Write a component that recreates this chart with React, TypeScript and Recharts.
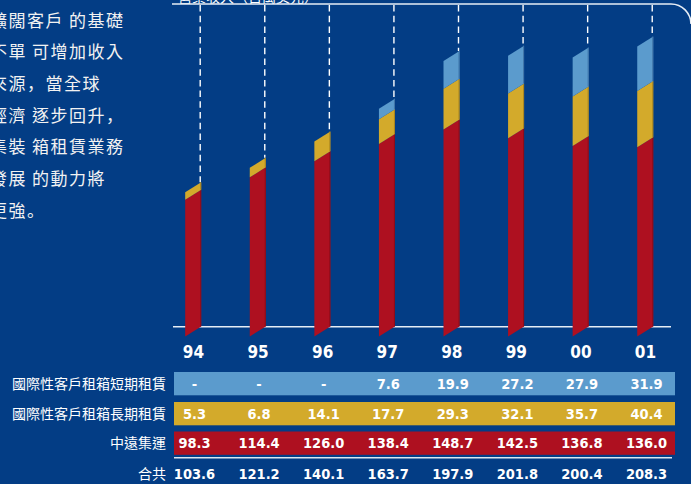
import React from 'react';
import { BarChart, Bar, XAxis, YAxis } from 'recharts';

const years = ['94', '95', '96', '97', '98', '99', '00', '01'];
const shortTerm: (number | null)[] = [null, null, null, 7.6, 19.9, 27.2, 27.9, 31.9];
const longTerm = [5.3, 6.8, 14.1, 17.7, 29.3, 32.1, 35.7, 40.4];
const coscon = [98.3, 114.4, 126.0, 138.4, 148.7, 142.5, 136.8, 136.0];
const totals = [103.6, 121.2, 140.1, 163.7, 197.9, 201.8, 200.4, 208.3];
const rowLabels = ['國際性客戶租箱短期租賃', '國際性客戶租箱長期租賃', '中遠集運', '合共'];
const introLines = ['擴闊客戶\u2009的基礎', '不單\u2009可增加收入', '來源，當全球', '經濟\u2009逐步回升，', '集裝\u2009箱租賃業務', '發展\u2009的動力將', '更強。'];
const title = '營業收入（百萬美元）';

const data = years.map((year, i) => ({
  year,
  coscon: coscon[i],
  longTerm: longTerm[i],
  shortTerm: shortTerm[i],
  total: totals[i],
}));

const BG = '#033d85';
const RED = '#ae1020';
const GOLD = '#d3aa2b';
const LBLUE = '#5b9bcd';
const WHITE = '#ffffff';
const CJK = "'Noto Sans CJK TC', 'Noto Sans CJK SC', sans-serif";
const CJK_PUNCT = "'Noto Sans CJK SC', sans-serif";
const NUM = "'DejaVu Sans Condensed', 'DejaVu Sans', sans-serif";
const SKEW = 10;

const fmt = (v: number | null) => (v == null ? '-' : v.toFixed(1));

function makeShape(edge: string, withGuide: boolean) {
  return (props: any) => {
    const { x, y, width, height, fill, payload, background } = props;
    if (!height || height <= 0) return null;
    const pts = `${x},${y + SKEW} ${x + width},${y} ${x + width},${y + height} ${x},${y + height + SKEW}`;
    let guide = null;
    if (withGuide && payload) {
      const perUnit = height / payload.coscon;
      const topY = y + height - payload.total * perUnit;
      const startY = background && background.y != null ? background.y : 5;
      guide = (
        <line
          x1={x + width - 1}
          x2={x + width - 1}
          y1={startY}
          y2={topY}
          stroke={WHITE}
          strokeWidth={1.4}
          strokeDasharray="6.5 4.2"
        />
      );
    }
    return (
      <g>
        {guide}
        <polygon points={pts} fill={fill} />
        <line x1={x + width - 0.5} x2={x + width - 0.5} y1={y} y2={y + height} stroke={edge} strokeWidth={1} />
      </g>
    );
  };
}

const TableTick = (props: any) => {
  const { x, y, payload } = props;
  const i = years.indexOf(payload.value);
  const vals = [fmt(shortTerm[i]), fmt(longTerm[i]), fmt(coscon[i]), fmt(totals[i])];
  const offs = [62.2, 92.0, 121.7, 152.7];
  return (
    <g>
      <text x={x} y={y + 31.8} textAnchor="middle" fill={WHITE} fontFamily={NUM} fontWeight="bold" fontSize={17} style={{ fontStretch: 'condensed' }}>
        {payload.value}
      </text>
      {vals.map((v, k) => (
        <text key={k} x={x + 1} y={y + offs[k]} textAnchor="middle" fill={WHITE} fontFamily={NUM} fontWeight="bold" fontSize={14.5} style={{ fontStretch: 'condensed' }}>
          {v}
        </text>
      ))}
    </g>
  );
};

const renderLine = (t: string) => {
  const parts: React.ReactNode[] = [];
  let buf = '';
  const flush = (k: number) => {
    if (buf) {
      parts.push(<tspan key={'t' + k}>{buf}</tspan>);
      buf = '';
    }
  };
  Array.from(t).forEach((ch, k) => {
    if (ch === '，' || ch === '。') {
      flush(k);
      parts.push(
        <tspan key={'p' + k} fontFamily={CJK_PUNCT}>
          {ch}
        </tspan>
      );
    } else {
      buf += ch;
    }
  });
  flush(9999);
  return parts;
};

export default function App() {
  const bandY = [372, 402, 431.5];
  const bandColors = [LBLUE, GOLD, RED];
  const labelY = [388.8, 418.6, 448.3, 479.3];
  return (
    <div style={{ position: 'relative', width: 691, height: 484, background: BG, overflow: 'hidden' }}>
      <style>{`body{margin:0;}`}</style>
      <svg width={691} height={484} style={{ position: 'absolute', left: 0, top: 0 }}>
        <text x={178} y={1.5} fill={WHITE} fontFamily={CJK} fontSize={14}>{title}</text>
        <path d="M172,4 H671 A20,20 0 0 1 691,24" fill="none" stroke="#e6edf5" strokeWidth={1.6} />
        {introLines.map((t, i) => (
          <text key={i} x={-10} y={26.5 + 31.7 * i} fill="#f2f2f2" fontFamily={CJK} fontSize={17} letterSpacing={1.5}>
            {renderLine(t)}
          </text>
        ))}
        <line x1={173} x2={671} y1={326.7} y2={326.7} stroke="#e6edf5" strokeWidth={1.5} />
        {bandY.map((by, i) => (
          <rect key={i} x={174} y={by} width={501} height={23.3} fill={bandColors[i]} />
        ))}
        <line x1={174} x2={672} y1={457.7} y2={457.7} stroke="#dde6f0" strokeWidth={1.5} />
        {rowLabels.map((t, i) => (
          <text key={i} x={166} y={labelY[i]} textAnchor="end" fill={WHITE} fontFamily={CJK} fontSize={14}>
            {t}
          </text>
        ))}
      </svg>
      <div style={{ position: 'absolute', left: 0, top: 0 }}>
        <BarChart
          width={691}
          height={484}
          data={data}
          margin={{ top: 5, right: 13.2, left: 161.2, bottom: 127.5 }}
          barSize={16}
        >
          <XAxis
            dataKey="year"
            axisLine={false}
            tickLine={false}
            tickSize={0}
            tickMargin={0}
            interval={0}
            height={30}
            tick={<TableTick />}
          />
          <YAxis hide domain={[0, 231]} />
          <Bar dataKey="coscon" stackId="a" fill={RED} isAnimationActive={false} shape={makeShape('#8c0c19', true)} />
          <Bar dataKey="longTerm" stackId="a" fill={GOLD} isAnimationActive={false} shape={makeShape('#a8841f', false)} />
          <Bar dataKey="shortTerm" stackId="a" fill={LBLUE} isAnimationActive={false} shape={makeShape('#3f74a8', false)} />
        </BarChart>
      </div>
    </div>
  );
}
